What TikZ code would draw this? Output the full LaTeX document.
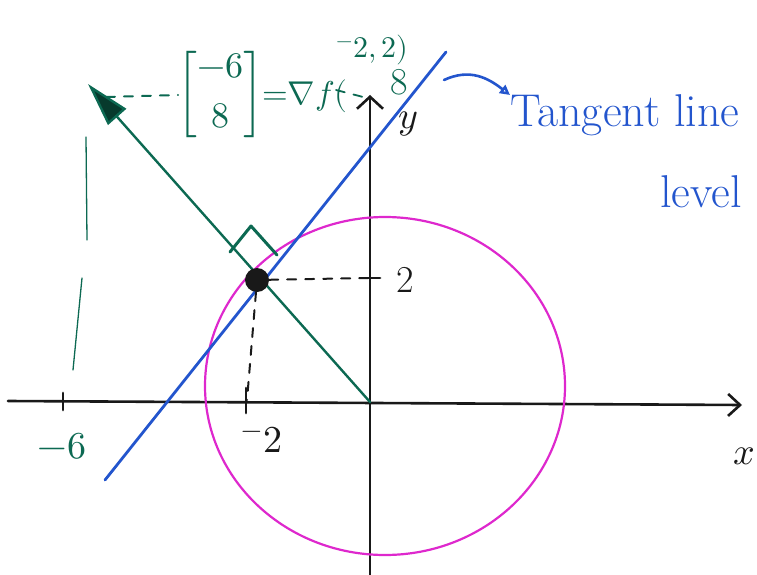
\documentclass[tikz,border=0pt]{standalone}
\usepackage{amsmath}
\usepackage{unicode-math}
\usetikzlibrary{arrows.meta,shapes.geometric}
\definecolor{pen}{RGB}{25,25,25}
\definecolor{grn}{RGB}{12,105,82}
\definecolor{blu}{RGB}{35,85,205}
\definecolor{pnk}{RGB}{222,40,205}
\begin{document}
\begin{tikzpicture}[x=1pt,y=-1pt,line cap=round,line join=round,
  axis/.style={draw=pen,line width=2.6pt},
  tickmark/.style={draw=pen,line width=2.8pt},
  lbl/.style={inner sep=0pt,font=\fontsize{38}{40}\selectfont},
  dashln/.style={dash pattern=on 9pt off 9pt,line width=2pt},
  vecln/.style={draw=grn,line width=2.4pt}]
\useasboundingbox (0,0) rectangle (757,575);
\clip (0,0) rectangle (757,575);
% axes
\coordinate (xs) at (8,401);
\coordinate (xe) at (742,405);
\coordinate (ys) at (370,578);
\coordinate (ye) at (370,95);
\coordinate (O) at (370,402);
\draw[axis,-{Straight Barb[length=12pt,width=22pt,line width=2.6pt]}] (xs) -- (xe);
\draw[axis,-{Straight Barb[length=12pt,width=26pt,line width=2.6pt]}] (ys) -- (ye);
% ticks
\draw[tickmark] (63,393) -- (63,410);
\draw[tickmark] (246,388) -- (246,413);
\draw[tickmark] (360,278) -- (380,278);
% circle
\node[draw=pnk,line width=2.2pt,ellipse,minimum width=360pt,minimum height=338pt,inner sep=0pt] (circ) at (385,386) {};
% tangent line
\coordinate (ta) at (105,480);
\coordinate (tb) at (446,52);
\draw[blu,line width=2.8pt] (ta) -- (tb);
% gradient vector
\coordinate (G) at (88,84);
\draw[vecln,-{Triangle[length=44pt,width=24pt,fill=grn!55!black]}] (O) -- (G);
% right-angle mark
\coordinate (r1) at (230,252);
\coordinate (r2) at (251,226);
\coordinate (r3) at (277,255);
\draw[grn,line width=3pt] (r1) -- (r2) -- (r3);
% point
\node[circle,fill=pen,minimum size=24pt,inner sep=0pt] (P) at (257,280) {};
\coordinate (yt) at (368,278);
\coordinate (xt) at (247,400);
\draw[pen,dashln] (P) -- (yt);
\draw[pen,dashln] (P) -- (xt);
% labels
\node[lbl,text=pen] (ylab) at (408,124) {$y$};
\node[lbl,text=pen] (xlab) at (744,456) {$x$};
\node[lbl,text=pen] (two) at (405,280) {2};
\node[lbl,text=pen] (mtwo) at (262,440) {$^{-}2$};
\node[lbl,text=grn] (msix) at (62,446) {$-6$};
\node[lbl,text=grn] (eight) at (399,82) {8};
% gradient expression
\node[inner sep=0pt,text=grn,anchor=west] (grad) at (178,95)
  {{\fontsize{36}{40}\selectfont$\left[\begin{matrix}-6\\[10pt]8\end{matrix}\right]$}{\fontsize{33}{36}\selectfont${=}\nabla f($}};
\node[inner sep=0pt,text=grn,font=\fontsize{30}{34}\selectfont,anchor=base west] (args) at (336,58)
  {$^{-}2,2)$};
\coordinate (g1) at (106,97);
\draw[grn,dashln] (g1) -- (grad.west);
\coordinate (g2) at (336,90);
\coordinate (g3) at (367,98);
\draw[grn,dashln,line width=1.8pt] (g2) -- (g3);
\draw[grn,line width=1.3pt] (86,137) -- (87,240);
\draw[grn,line width=1.3pt] (82,278) -- (73,370);
% annotation
\node[inner sep=0pt,text=blu,font=\fontsize{46}{50}\selectfont,anchor=base west] (tl) at (510,126) {Tangent line};
\node[inner sep=0pt,text=blu,font=\fontsize{46}{50}\selectfont,anchor=base west] (lev) at (660,207) {level};
\coordinate (c1) at (444,80);
\draw[blu,line width=2.6pt,-{Triangle[open,length=10pt,width=10pt]}] (c1) .. controls (470,68) and (488,78) .. (tl.west |- 0,95);
\end{tikzpicture}
\end{document}
